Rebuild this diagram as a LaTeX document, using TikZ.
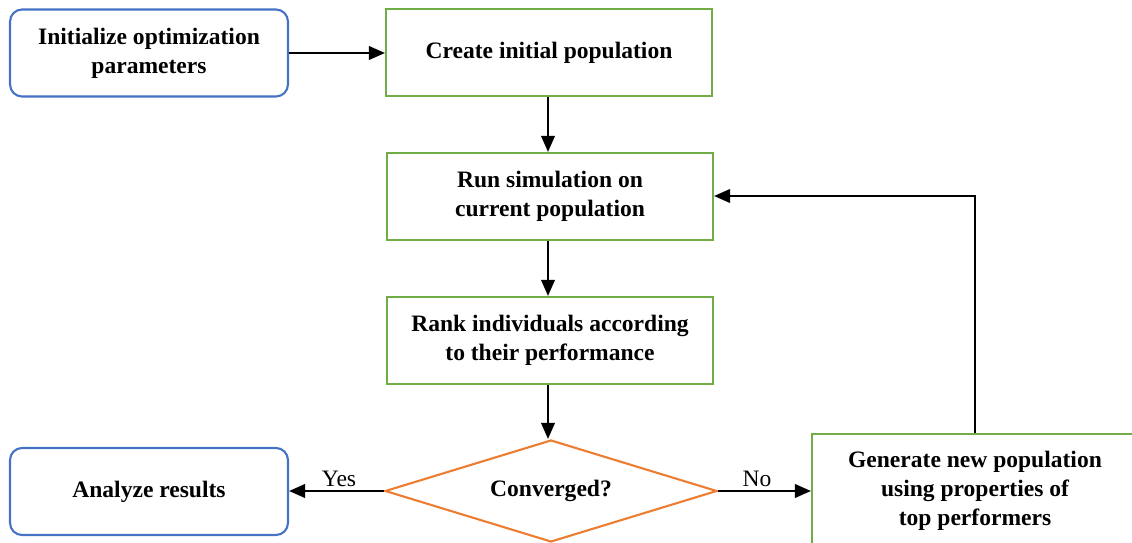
\documentclass[tikz,border=0pt]{standalone}
\usepackage{fontspec}
\setmainfont{Liberation Serif}
\usetikzlibrary{shapes.geometric,arrows.meta}
\definecolor{bblue}{HTML}{4472C4}
\definecolor{bgreen}{HTML}{70AD47}
\definecolor{borange}{HTML}{ED7D31}
\begin{document}
\begin{tikzpicture}[x=0.02cm,y=-0.02cm,
  txt/.style={font=\fontsize{13.4}{16.4}\selectfont\bfseries, align=center, inner sep=0pt},
  rbox/.style={txt, draw=bblue, line width=1.2pt, rounded corners=0.24cm, minimum width=5.56cm, minimum height=1.74cm},
  gbox/.style={txt, draw=bgreen, line width=1.2pt, minimum width=6.52cm, minimum height=1.74cm},
  dec/.style={txt, draw=borange, line width=1.2pt, shape=diamond, aspect=3.25, minimum width=6.64cm, minimum height=2.04cm},
  arr/.style={line width=1.2pt, -{Triangle[length=0.32cm,width=0.27cm]}},
  lbl/.style={font=\fontsize{13.4}{16.4}\selectfont, inner sep=0pt}
]
\useasboundingbox (0,0) rectangle (1132,543);
\node[rbox] (init) at (149,53) {Initialize optimization\\parameters};
\node[gbox] (create) at (549,52.5) {Create initial population};
\node[gbox] (run) at (550,196.5) {Run simulation on\\current population};
\node[gbox] (rank) at (550,340.5) {Rank individuals according\\to their performance};
\node[dec] (conv) at (551,491) {Converged?};
\node[rbox] (anal) at (149,491.5) {Analyze results};
\node[gbox, minimum height=2.28cm] (gen) at (975,491) {Generate new population\\using properties of\\top performers};
\coordinate (corner) at (975,196);

\draw[arr] (init.east) -- (create.west |- init.east);
\draw[arr] (create.south -| 548,0) -- (run.north -| 548,0);
\draw[arr] (run.south -| 548,0) -- (rank.north -| 548,0);
\draw[arr] (rank.south -| 548,0) -- (conv.north -| 548,0);
\draw[arr] (conv.west) -- (anal.east |- conv.west);
\draw[arr] (conv.east) -- (gen.west |- conv.east);
\draw[arr] (gen.north -| corner) -- (corner) -- (run.east |- corner);
\node[lbl] (yes) at (339,479) {Yes};
\node[lbl] (no) at (757,479) {No};
\end{tikzpicture}
\end{document}
